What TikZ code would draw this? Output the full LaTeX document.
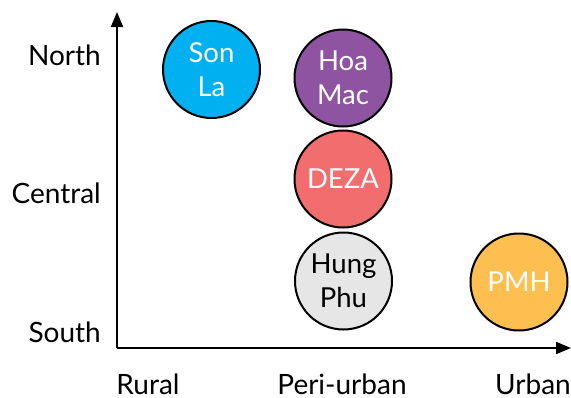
\documentclass[tikz,border=0pt]{standalone}
\usepackage{fontspec}
\setmainfont{Lato}
\usetikzlibrary{arrows.meta}

\definecolor{sonla}{HTML}{00B0F0}
\definecolor{hoamac}{HTML}{8E54A2}
\definecolor{deza}{HTML}{F26D6D}
\definecolor{hungphu}{HTML}{E7E6E6}
\definecolor{pmh}{HTML}{FDBF4F}

\tikzset{
  site/.style={circle, draw=black, line width=2pt, minimum size=97pt, inner sep=0pt,
    align=center, text=white, font=\fontsize{27.5}{34}\selectfont},
  axislabel/.style={inner sep=0pt, font=\fontsize{28}{32}\selectfont},
  axisline/.style={line width=2pt, -{Triangle[length=15pt, width=12pt]}}
}

\begin{document}
\begin{tikzpicture}[x=1pt, y=-1pt]
  \useasboundingbox (0,0) rectangle (571,397);

  % axes
  \coordinate (origin) at (117,348);
  \coordinate (ytip) at (117,12);
  \coordinate (xtip) at (571,348);
  \draw[axisline] (origin) -- (ytip);
  \draw[axisline] (origin) -- (xtip);

  % vertical axis labels
  \node[axislabel, anchor=base east] (north) at (101,65) {North};
  \node[axislabel, anchor=base east] (central) at (101,203) {Central};
  \node[axislabel, anchor=base east] (south) at (101,342) {South};

  % horizontal axis labels
  \node[axislabel, anchor=base] (rural) at (148,394) {Rural};
  \node[axislabel, anchor=base] (periurban) at (342,394) {Peri-urban};
  \node[axislabel, anchor=base] (urban) at (533,394) {Urban};

  % sites
  \node[site, fill=sonla] (sonla) at (211.5,69.5) {Son\\La};
  \node[site, fill=hoamac] (hoamac) at (343,78) {Hoa\\Mac};
  \node[site, fill=deza] (deza) at (343,179) {DEZA};
  \node[site, fill=hungphu, text=black] (hungphu) at (343.5,281) {Hung\\Phu};
  \node[site, fill=pmh] (pmh) at (519,282) {PMH};
\end{tikzpicture}
\end{document}
